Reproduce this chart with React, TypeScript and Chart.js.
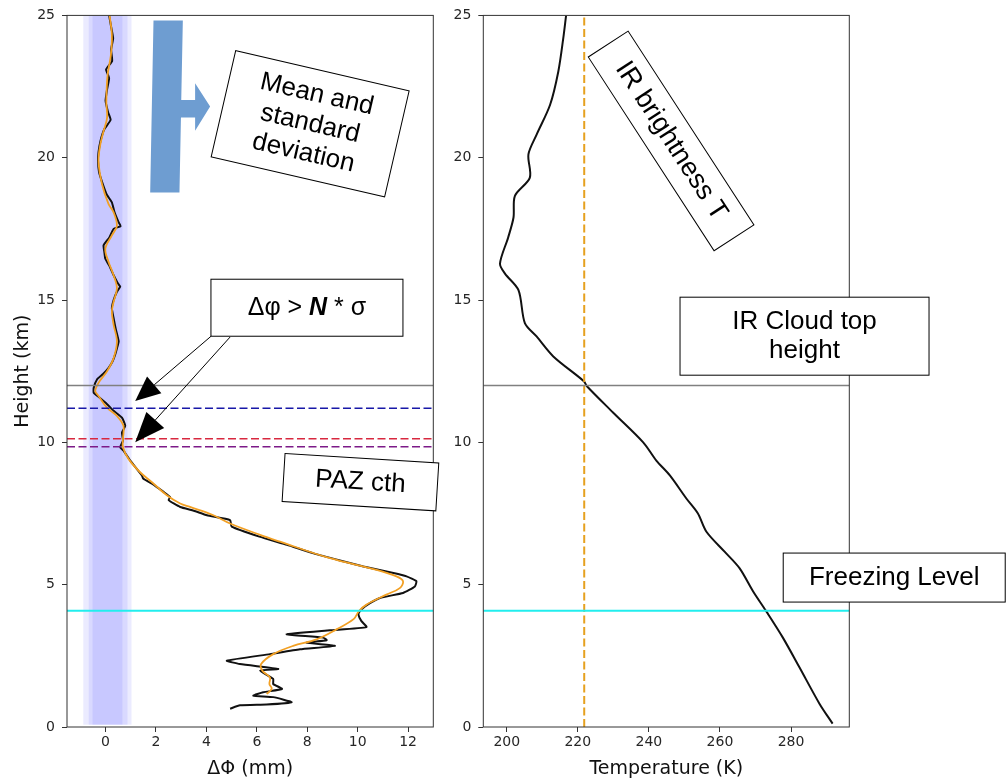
import React, { useEffect, useRef } from "react";
import { Chart, registerables } from "chart.js";
Chart.register(...registerables);

// ---------- data ----------
const rawHeight = [25.0, 24.6, 24.2, 23.8, 23.4, 23.1, 22.8, 22.4, 22.0, 21.6, 21.33, 21.0, 20.6, 20.2, 19.9, 19.5, 19.1, 18.7, 18.43, 18.1, 17.73, 17.6, 17.5, 17.2, 16.92, 16.7, 16.45, 16.2, 15.87, 15.6, 15.47, 15.29, 15.0, 14.71, 14.36, 14.0, 13.55, 13.3, 13.08, 12.85, 12.62, 12.4, 12.21, 11.92, 11.74, 11.6, 11.35, 11.11, 10.87, 10.58, 10.35, 10.06, 9.83, 9.71, 9.36, 8.84, 8.72, 8.55, 8.26, 8.08, 7.97, 7.73, 7.6, 7.44, 7.27, 7.04, 6.69, 6.4, 6.1, 5.85, 5.64, 5.41, 5.29, 5.12, 4.94, 4.71, 4.53, 4.24, 4.07, 3.95, 3.72, 3.51, 3.4, 3.26, 3.14, 3.05, 2.96, 2.85, 2.73, 2.56, 2.33, 2.21, 2.04, 1.98, 1.69, 1.51, 1.34, 1.22, 1.1, 1.05, 0.87, 0.79, 0.76, 0.64];
const rawPhase = [0.14, 0.22, 0.3, 0.22, 0.26, 0.02, 0.14, 0.06, 0.0, 0.1, 0.2, -0.05, -0.2, -0.28, -0.3, -0.26, -0.12, 0.05, 0.25, 0.35, 0.52, 0.6, 0.32, 0.15, -0.08, -0.05, -0.01, 0.15, 0.32, 0.48, 0.58, 0.45, 0.32, 0.25, 0.32, 0.4, 0.52, 0.45, 0.38, 0.28, 0.12, -0.1, -0.34, -0.47, -0.47, -0.28, 0.05, 0.32, 0.65, 0.78, 0.65, 0.69, 0.58, 0.71, 0.98, 1.44, 1.5, 1.84, 2.3, 2.56, 2.5, 2.96, 3.5, 4.02, 4.94, 5.0, 6.1, 7.2, 8.25, 9.3, 10.23, 11.42, 11.94, 12.33, 12.27, 11.8, 10.88, 10.29, 10.09, 10.03, 10.15, 10.35, 8.9, 7.18, 8.63, 8.77, 7.97, 9.1, 7.71, 6.52, 4.81, 5.33, 6.85, 6.13, 6.65, 6.65, 7.0, 6.25, 5.86, 6.65, 7.38, 6.39, 5.33, 4.94];

const smoothHeight = [25.0, 24.3, 23.6, 22.9, 21.97, 21.4, 20.93, 20.46, 19.88, 19.07, 18.37, 18.08, 17.61, 17.27, 16.8, 16.34, 15.87, 15.41, 14.94, 14.59, 14.13, 13.55, 12.96, 12.5, 12.09, 11.8, 11.63, 11.22, 10.93, 10.58, 10.12, 9.83, 9.42, 8.95, 8.6, 8.14, 7.85, 7.73, 7.44, 7.15, 6.75, 6.51, 5.93, 5.52, 5.29, 5.12, 4.88, 4.65, 4.3, 4.07, 3.8, 3.43, 3.08, 2.85, 2.56, 2.21, 1.98, 1.74, 1.51, 1.34, 1.16];
const smoothPhase = [0.16, 0.25, 0.21, 0.08, 0.03, 0.06, -0.08, -0.21, -0.28, -0.14, 0.12, 0.32, 0.45, 0.25, -0.01, 0.12, 0.32, 0.45, 0.32, 0.25, 0.32, 0.45, 0.32, 0.06, -0.28, -0.41, -0.28, 0.06, 0.45, 0.71, 0.69, 0.69, 0.91, 1.37, 1.84, 2.43, 2.96, 3.35, 4.28, 4.94, 6.13, 6.92, 8.9, 10.75, 11.54, 11.8, 11.67, 11.14, 10.35, 10.05, 9.85, 9.16, 8.37, 7.44, 6.65, 6.17, 6.22, 6.52, 6.5, 6.59, 6.39];

const tempHeight = [25.0, 24.19, 23.02, 21.86, 20.81, 20.12, 19.3, 18.66, 17.9, 17.2, 16.28, 15.93, 15.35, 14.19, 13.72, 13.02, 12.15, 11.98, 11.05, 10.0, 9.36, 8.84, 8.02, 7.5, 6.86, 6.16, 5.58, 4.77, 4.07, 3.14, 2.09, 0.82, 0.12];
const tempK = [216.7, 215.9, 214.5, 212.2, 208.4, 206.1, 206.5, 202.3, 201.9, 200.4, 198.1, 199.5, 203.3, 205.1, 208.4, 213.1, 221.7, 222.5, 229.9, 238.4, 242.1, 245.9, 250.6, 253.8, 256.2, 261.3, 265.5, 269.3, 273.0, 277.7, 282.4, 288.0, 291.7];

const phaseTicks = [0, 2, 4, 6, 8, 10, 12];
const tempTicks = [200, 220, 240, 260, 280];
const heightTicks = [0, 5, 10, 15, 20, 25];
const phaseRange = [-1.53, 13];
const tempRange = [193.4, 296.4];
const heightRange = [0, 25];

const bandLow = [-0.885, -0.67, -0.52];
const bandHigh = [1.03, 0.87, 0.67];
const bandHeight = [0.08, 25];

const cloudTopKm = 12.0;
const freezingKm = 4.08;
const pazLevelsKm = [11.2, 10.13, 9.85];
const pazColors = ["#1818a8", "#d8283f", "#7c1a88"];
const irBrightnessK = 221.8;

// ---------- helpers ----------
const TICK_FONT = { family: '"DejaVu Sans", sans-serif', size: 14 };
const TITLE_FONT = { family: '"DejaVu Sans", sans-serif', size: 19, lineHeight: 1 };
const BOX_FAMILY = '"Liberation Sans", Arial, sans-serif';
const DASH = [8, 3.5];

const pts = (xs: number[], ys: number[]) => xs.map((x, i) => ({ x, y: ys[i] }));
const hline = (y: number, xr: number[], color: string, width: number, dash: number[] = []) => ({
  data: [{ x: xr[0], y }, { x: xr[1], y }],
  borderColor: color, borderWidth: width, borderDash: dash, showLine: true, pointRadius: 0, order: 0,
});

function axis(range: number[], ticks: number[], fit: (s: any) => void, title: any, tickPad: number) {
  return {
    type: "linear",
    min: range[0], max: range[1],
    afterBuildTicks: (s: any) => { s.ticks = ticks.map((v) => ({ value: v })); },
    afterFit: fit,
    grid: { display: true, drawOnChartArea: false, drawTicks: true, tickLength: 5, tickColor: "#333", tickWidth: 1 },
    border: { display: false },
    ticks: { font: TICK_FONT, color: "#262626", padding: tickPad, maxRotation: 0, autoSkip: false },
    title,
  };
}

const framePlugin = {
  id: "frame",
  afterDatasetsDraw(chart: any) {
    const { ctx, chartArea: a } = chart;
    ctx.save();
    ctx.strokeStyle = "#333";
    ctx.lineWidth = 1;
    ctx.strokeRect(a.left, a.top, a.right - a.left, a.bottom - a.top);
    ctx.restore();
  },
};

const bandPlugin = {
  id: "bands",
  beforeDatasetsDraw(chart: any) {
    const { ctx, chartArea: a, scales: { x, y } } = chart;
    ctx.save();
    ctx.beginPath();
    ctx.rect(a.left, a.top, a.right - a.left, a.bottom - a.top);
    ctx.clip();
    ctx.fillStyle = "rgba(0,0,255,0.08)";
    for (let i = 0; i < bandLow.length; i++) {
      const x0 = x.getPixelForValue(bandLow[i]);
      const x1 = x.getPixelForValue(bandHigh[i]);
      const y0 = y.getPixelForValue(bandHeight[1]);
      const y1 = y.getPixelForValue(bandHeight[0]);
      ctx.fillRect(x0, y0, x1 - x0, y1 - y0);
    }
    ctx.restore();
  },
};

type Seg = { t: string; f: string };
type Ann =
  | { kind: "box"; x: number; y: number; w: number; h: number; rot: number; lines?: string[]; rich?: Seg[]; size: number; gap?: number }
  | { kind: "arrow"; x0: number; y0: number; x1: number; y1: number; len: number; wid: number }
  | { kind: "poly"; xs: number[]; ys: number[]; color: string };

function overlay(id: string, items: Ann[]) {
  return {
    id,
    afterDraw(chart: any) {
      const { ctx, scales: { x, y } } = chart;
      const px = (v: number) => x.getPixelForValue(v);
      const py = (v: number) => y.getPixelForValue(v);
      ctx.save();
      for (const a of items) {
        if (a.kind === "poly") {
          ctx.fillStyle = a.color;
          ctx.beginPath();
          a.xs.forEach((v, i) => (i ? ctx.lineTo(px(v), py(a.ys[i])) : ctx.moveTo(px(v), py(a.ys[i]))));
          ctx.closePath();
          ctx.fill();
        } else if (a.kind === "arrow") {
          const sx = px(a.x0), sy = py(a.y0), tx = px(a.x1), ty = py(a.y1);
          const dx = tx - sx, dy = ty - sy, L = Math.hypot(dx, dy);
          const ux = dx / L, uy = dy / L;
          const bx = tx - ux * a.len, by = ty - uy * a.len;
          ctx.strokeStyle = "#000";
          ctx.lineWidth = 1;
          ctx.beginPath();
          ctx.moveTo(sx, sy);
          ctx.lineTo(bx, by);
          ctx.stroke();
          ctx.fillStyle = "#000";
          ctx.beginPath();
          ctx.moveTo(tx, ty);
          ctx.lineTo(bx - uy * a.wid / 2, by + ux * a.wid / 2);
          ctx.lineTo(bx + uy * a.wid / 2, by - ux * a.wid / 2);
          ctx.closePath();
          ctx.fill();
        } else {
          ctx.save();
          ctx.translate(px(a.x), py(a.y));
          ctx.rotate((a.rot * Math.PI) / 180);
          ctx.fillStyle = "#fff";
          ctx.fillRect(-a.w / 2, -a.h / 2, a.w, a.h);
          ctx.strokeStyle = "#000";
          ctx.lineWidth = 1;
          ctx.strokeRect(-a.w / 2, -a.h / 2, a.w, a.h);
          ctx.fillStyle = "#000";
          ctx.textBaseline = "middle";
          if (a.lines) {
            ctx.font = `${a.size}px ${BOX_FAMILY}`;
            ctx.textAlign = "center";
            const gap = a.gap || a.size * 1.15;
            const n = a.lines.length;
            a.lines.forEach((t, i) => ctx.fillText(t, 0, (i - (n - 1) / 2) * gap));
          } else if (a.rich) {
            ctx.textAlign = "left";
            const fonts = a.rich.map((s) => `${s.f} ${a.size}px ${BOX_FAMILY}`);
            let total = 0;
            const widths = a.rich.map((s, i) => { ctx.font = fonts[i]; const w = ctx.measureText(s.t).width; total += w; return w; });
            let cx = -total / 2;
            a.rich.forEach((s, i) => { ctx.font = fonts[i]; ctx.fillText(s.t, cx, 0); cx += widths[i]; });
          }
          ctx.restore();
        }
      }
      ctx.restore();
    },
  };
}

const leftAnnotations: Ann[] = [
  { kind: "poly", color: "#6e9dd1",
    xs: [1.901, 3.065, 3.002, 3.552, 3.552, 4.147, 3.552, 3.552, 2.99, 2.931, 1.77],
    ys: [24.82, 24.82, 22.03, 22.03, 22.62, 21.8, 20.95, 21.41, 21.41, 18.78, 18.78] },
  { kind: "box", x: 8.115, y: 21.19, w: 178, h: 109, rot: 13, lines: ["Mean and", "standard", "deviation"], size: 26, gap: 30 },
  { kind: "box", x: 7.988, y: 14.73, w: 192, h: 57, rot: 0, size: 25,
    rich: [{ t: "Δφ > ", f: "normal" }, { t: "N", f: "italic bold" }, { t: " * σ", f: "normal" }] },
  { kind: "arrow", x0: 4.186, y0: 13.73, x1: 1.176, y1: 11.45, len: 25, wid: 22 },
  { kind: "arrow", x0: 4.939, y0: 13.7, x1: 1.176, y1: 10.0, len: 30, wid: 24 },
  { kind: "box", x: 10.11, y: 8.6, w: 154, h: 48, rot: 3.5, lines: ["PAZ cth"], size: 26 },
];

const rightAnnotations: Ann[] = [
  { kind: "box", x: 246.25, y: 20.59, w: 231, h: 47.5, rot: 57, lines: ["IR brightness T"], size: 27 },
  { kind: "box", x: 283.8, y: 13.73, w: 249, h: 78, rot: 0, lines: ["IR Cloud top", "height"], size: 26, gap: 29 },
  { kind: "box", x: 309.04, y: 5.25, w: 222, h: 49, rot: 0, lines: ["Freezing Level"], size: 26 },
];

export default function App() {
  const leftRef = useRef<HTMLCanvasElement>(null);
  const rightRef = useRef<HTMLCanvasElement>(null);

  useEffect(() => {
    const left = new Chart(leftRef.current as HTMLCanvasElement, {
      type: "scatter",
      data: {
        datasets: [
          { data: pts(rawPhase, rawHeight), borderColor: "#111", borderWidth: 2, showLine: true, pointRadius: 0, tension: 0.15, order: 3 },
          { data: pts(smoothPhase, smoothHeight), borderColor: "#f2a024", borderWidth: 1.8, showLine: true, pointRadius: 0, tension: 0.35, order: 2 },
          hline(cloudTopKm, phaseRange, "#808080", 1.5),
          ...pazLevelsKm.map((h, i) => hline(h, phaseRange, pazColors[i], 1.5, DASH)),
          hline(freezingKm, phaseRange, "#22eeee", 2),
        ] as any,
      },
      options: {
        animation: false,
        responsive: false,
        maintainAspectRatio: false,
        layout: { padding: { left: 0, top: 10, right: 445 - 433.3, bottom: 0 } },
        plugins: { legend: { display: false }, tooltip: { enabled: false } },
        scales: {
          x: axis(phaseRange, phaseTicks, (s: any) => { s.height = 52; },
            { display: true, text: "ΔΦ (mm)", font: TITLE_FONT, color: "#111", padding: { top: 0, bottom: 0.5 } }, 2),
          y: axis(heightRange, heightTicks, (s: any) => { s.width = 67; },
            { display: true, text: "Height (km)", font: TITLE_FONT, color: "#111", padding: { top: 14, bottom: 0 } }, 7),
        } as any,
      },
      plugins: [bandPlugin, framePlugin, overlay("leftAnn", leftAnnotations)],
    });

    const right = new Chart(rightRef.current as HTMLCanvasElement, {
      type: "scatter",
      data: {
        datasets: [
          { data: pts(tempK, tempHeight), borderColor: "#111", borderWidth: 2, showLine: true, pointRadius: 0, tension: 0.3, order: 3 },
          hline(cloudTopKm, tempRange, "#808080", 1.5),
          hline(freezingKm, tempRange, "#22eeee", 2),
          { data: [{ x: irBrightnessK, y: heightRange[0] }, { x: irBrightnessK, y: heightRange[1] }], borderColor: "#e6a11f", borderWidth: 2, borderDash: DASH, showLine: true, pointRadius: 0, order: 0 },
        ] as any,
      },
      options: {
        animation: false,
        responsive: false,
        maintainAspectRatio: false,
        layout: { padding: { left: 0, top: 10, right: 562 - 404.3, bottom: 0 } },
        plugins: { legend: { display: false }, tooltip: { enabled: false } },
        scales: {
          x: axis(tempRange, tempTicks, (s: any) => { s.height = 52; },
            { display: true, text: "Temperature (K)", font: TITLE_FONT, color: "#111", padding: { top: 0, bottom: 0.5 } }, 2),
          y: axis(heightRange, heightTicks, (s: any) => { s.width = 38.3; }, { display: false }, 7),
        } as any,
      },
      plugins: [framePlugin, overlay("rightAnn", rightAnnotations)],
    });

    return () => { left.destroy(); right.destroy(); };
  }, []);

  return (
    <div style={{ position: "absolute", left: 0, top: 0, width: 1007, height: 779, background: "#fff", overflow: "hidden" }}>
      <canvas ref={leftRef} width={445} height={779} style={{ position: "absolute", left: 0, top: 0 }} />
      <canvas ref={rightRef} width={562} height={779} style={{ position: "absolute", left: 445, top: 0 }} />
    </div>
  );
}
